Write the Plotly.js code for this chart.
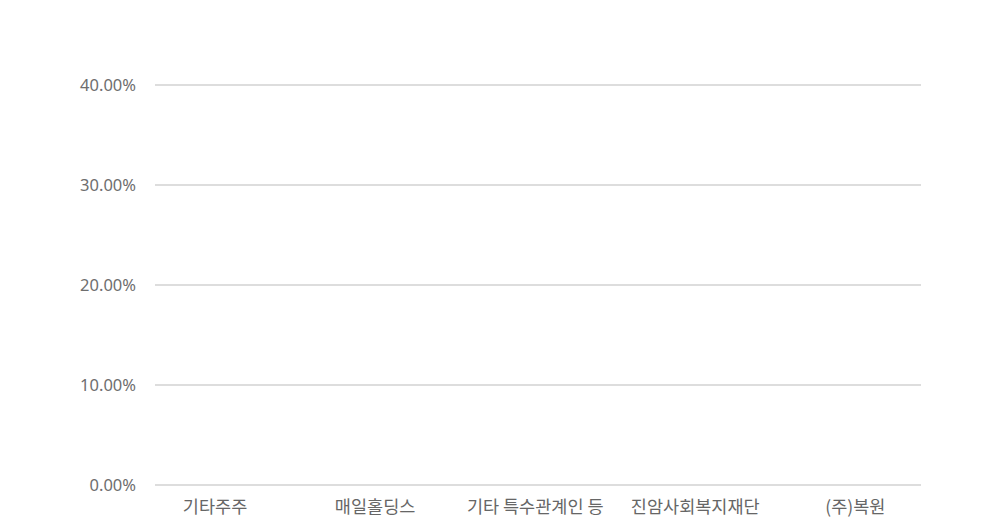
<!DOCTYPE html>
<html>
<head>
<meta charset="utf-8">
<script src="https://cdn.plot.ly/plotly-3.0.1.min.js"></script>
<style>
  html, body { margin: 0; padding: 0; background: #fff; }
  #plot { width: 1000px; height: 522px; }
</style>
</head>
<body>
<div id="plot"></div>
<script>
// shareholders (no bars visible in the picture, so shares read as 0)
var holders = ['기타주주', '매일홀딩스', '기타 특수관계인 등', '진암사회복지재단', '(주)복원'];
var shares = [0, 0, 0, 0, 0];
var yTicks = [0, 10, 20, 30, 40];
var yLabels = ['0.00%', '10.00%', '20.00%', '30.00%', '40.00%'];

function drawDia(){
  var PLOT = document.getElementById('plot');
  var trace1 = {
    x: holders,
    y: shares,
    type: 'bar',
    marker: {color: '#4a7bd0'},
    hoverinfo: 'none'
  };

  var layout = {
    width: 1000,
    height: 522,
    margin: {l: 155, r: 79, t: 45, b: 35},
    paper_bgcolor: '#fff',
    plot_bgcolor: '#fff',
    showlegend: false,
    font: {family: 'Noto Sans, Noto Sans CJK KR, sans-serif', color: '#666'},
    xaxis: {
      type: 'category',
      range: [-0.375, 4.41],
      showgrid: false,
      zeroline: false,
      showline: false,
      ticks: '',
      ticklabelstandoff: 7,
      tickfont: {size: 17.5, color: '#666', family: 'Noto Sans CJK KR, Noto Sans, sans-serif'}
    },
    yaxis: {
      range: [-0.2, 44],
      tickmode: 'array',
      tickvals: yTicks,
      ticktext: yLabels,
      gridcolor: '#dddddd',
      gridwidth: 2,
      zeroline: false,
      showline: false,
      ticks: '',
      ticklabelstandoff: 18,
      tickfont: {size: 16.5, color: '#6e6e6e'}
    }
  };

  Plotly.newPlot(PLOT, [trace1], layout, {displayModeBar: false, staticPlot: true});
}
drawDia();
</script>
</body>
</html>
